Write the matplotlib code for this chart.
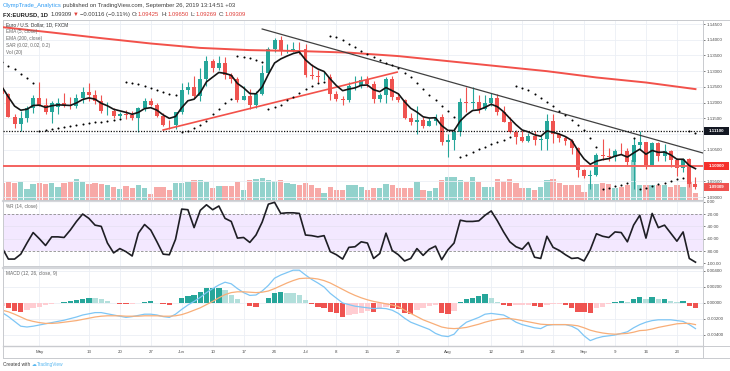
import numpy as np
import matplotlib
matplotlib.use("Agg")
import matplotlib.pyplot as plt
from matplotlib.transforms import blended_transform_factory as blend
from matplotlib.patches import Rectangle
from matplotlib.lines import Line2D

plt.rcParams['font.family'] = ['Liberation Sans', 'DejaVu Sans']

# ---------------- data (EUR/USD daily, 23 Apr - 26 Sep 2019) ----------------
open_ = [1.1247, 1.1226, 1.1155, 1.1131, 1.1150, 1.1184, 1.1216, 1.1194, 1.1171, 1.1185,
         1.1199, 1.1191, 1.1190, 1.1215, 1.1233, 1.1224, 1.1204, 1.1172, 1.1174, 1.1157,
         1.1165, 1.1160, 1.1150, 1.1182, 1.1205, 1.1191, 1.1159, 1.1130, 1.1128, 1.1169,
         1.1241, 1.1251, 1.1222, 1.1275, 1.1333, 1.1311, 1.1327, 1.1287, 1.1275, 1.1209,
         1.1220, 1.1194, 1.1227, 1.1293, 1.1371, 1.1399, 1.1366, 1.1367, 1.1372, 1.1371,
         1.1287, 1.1286, 1.1282, 1.1283, 1.1226, 1.1213, 1.1207, 1.1252, 1.1254, 1.1271,
         1.1259, 1.1211, 1.1223, 1.1275, 1.1218, 1.1208, 1.1152, 1.1140, 1.1145, 1.1126,
         1.1142, 1.1155, 1.1076, 1.1081, 1.1108, 1.1203, 1.1198, 1.1202, 1.1180, 1.1200,
         1.1214, 1.1171, 1.1139, 1.1107, 1.1091, 1.1079, 1.1094, 1.1080, 1.1083, 1.1143,
         1.1099, 1.1088, 1.1077, 1.1057, 1.0985, 1.0968, 1.0970, 1.1033, 1.1030, 1.1027,
         1.1046, 1.1045, 1.1011, 1.1065, 1.1075, 1.1003, 1.1071, 1.1030, 1.1045, 1.1017,
         1.0991, 1.1020, 1.09425]
high = [1.1258, 1.1232, 1.1165, 1.1173, 1.1190, 1.1224, 1.1265, 1.1214, 1.1204, 1.1215,
        1.1230, 1.1218, 1.1229, 1.1251, 1.1264, 1.1240, 1.1225, 1.1202, 1.1182, 1.1170,
        1.1178, 1.1172, 1.1187, 1.1215, 1.1215, 1.1199, 1.1167, 1.1146, 1.1170, 1.1262,
        1.1265, 1.1286, 1.1309, 1.1348, 1.1340, 1.1348, 1.1344, 1.1294, 1.1282, 1.1253,
        1.1244, 1.1236, 1.1319, 1.1378, 1.1404, 1.1412, 1.1385, 1.1394, 1.1392, 1.1385,
        1.1322, 1.1305, 1.1298, 1.1291, 1.1238, 1.1222, 1.1265, 1.1286, 1.1286, 1.1285,
        1.1270, 1.1232, 1.1282, 1.1285, 1.1230, 1.1212, 1.1166, 1.1188, 1.1155, 1.1150,
        1.1163, 1.1164, 1.1100, 1.1118, 1.1216, 1.1250, 1.1250, 1.1224, 1.1225, 1.1231,
        1.1229, 1.1190, 1.1153, 1.1112, 1.1112, 1.1105, 1.1111, 1.1098, 1.1163, 1.1164,
        1.1103, 1.1094, 1.1085, 1.1059, 1.0990, 1.0986, 1.1040, 1.1085, 1.1057, 1.1053,
        1.1071, 1.1055, 1.1087, 1.1109, 1.1075, 1.1075, 1.1076, 1.1068, 1.1049, 1.1025,
        1.1025, 1.1025, 1.09650]
low = [1.1212, 1.1153, 1.1118, 1.1111, 1.1140, 1.1168, 1.1190, 1.1165, 1.1135, 1.1164,
       1.1185, 1.1181, 1.1182, 1.1200, 1.1206, 1.1196, 1.1166, 1.1162, 1.1150, 1.1150,
       1.1148, 1.1145, 1.1107, 1.1174, 1.1188, 1.1153, 1.1125, 1.1115, 1.1116, 1.1163,
       1.1229, 1.1215, 1.1206, 1.1254, 1.1297, 1.1305, 1.1276, 1.1261, 1.1201, 1.1209,
       1.1181, 1.1183, 1.1225, 1.1291, 1.1360, 1.1351, 1.1357, 1.1361, 1.1355, 1.1280,
       1.1276, 1.1265, 1.1273, 1.1207, 1.1204, 1.1193, 1.1201, 1.1240, 1.1245, 1.1250,
       1.1200, 1.1202, 1.1200, 1.1208, 1.1203, 1.1147, 1.1128, 1.1101, 1.1120, 1.1125,
       1.1130, 1.1065, 1.1027, 1.1050, 1.1093, 1.1170, 1.1181, 1.1167, 1.1177, 1.1188,
       1.1160, 1.1137, 1.1105, 1.1067, 1.1076, 1.1076, 1.1065, 1.1051, 1.1051, 1.1072,
       1.1076, 1.1064, 1.1036, 1.0964, 1.0959, 1.0926, 1.0968, 1.1019, 1.1014, 1.1016,
       1.1037, 1.0999, 1.0926, 1.1048, 1.0990, 1.1000, 1.1016, 1.1016, 1.0995, 1.0966,
       1.0980, 1.0933, 1.09269]
close = [1.1227, 1.1155, 1.1131, 1.1150, 1.1184, 1.1216, 1.1194, 1.1171, 1.1200, 1.1199,
         1.1191, 1.1190, 1.1215, 1.1233, 1.1224, 1.1204, 1.1172, 1.1174, 1.1157, 1.1165,
         1.1160, 1.1150, 1.1182, 1.1205, 1.1191, 1.1159, 1.1130, 1.1128, 1.1169, 1.1241,
         1.1251, 1.1222, 1.1275, 1.1333, 1.1311, 1.1327, 1.1287, 1.1275, 1.1209, 1.1220,
         1.1194, 1.1227, 1.1293, 1.1371, 1.1399, 1.1366, 1.1367, 1.1372, 1.1371, 1.1287,
         1.1286, 1.1282, 1.1283, 1.1226, 1.1213, 1.1207, 1.1252, 1.1254, 1.1271, 1.1259,
         1.1211, 1.1223, 1.1275, 1.1218, 1.1208, 1.1152, 1.1140, 1.1145, 1.1126, 1.1142,
         1.1155, 1.1076, 1.1081, 1.1108, 1.1203, 1.1198, 1.1202, 1.1180, 1.1200, 1.1214,
         1.1171, 1.1139, 1.1107, 1.1091, 1.1079, 1.1094, 1.1080, 1.1083, 1.1143, 1.1099,
         1.1088, 1.1077, 1.1057, 1.0985, 1.0968, 1.0970, 1.1033, 1.1030, 1.1027, 1.1046,
         1.1045, 1.1011, 1.1065, 1.1075, 1.1003, 1.1071, 1.1030, 1.1045, 1.1017, 1.0991,
         1.1020, 1.0940, 1.09309]
volume_k = [170, 180, 170, 180, 110, 160, 170, 160, 170, 130,
            170, 180, 210, 180, 160, 170, 160, 150, 130, 110,
            140, 120, 150, 120, 60, 130, 130, 100, 170, 170,
            180, 200, 200, 180, 120, 140, 140, 140, 180, 100,
            200, 210, 220, 200, 190, 200, 170, 160, 150, 170,
            150, 120, 70, 130, 100, 100, 150, 150, 130, 100,
            120, 120, 160, 150, 120, 120, 120, 180, 100, 90,
            120, 200, 230, 230, 200, 180, 230, 180, 130, 130,
            210, 190, 210, 170, 120, 120, 100, 130, 200, 210,
            170, 150, 150, 150, 80, 160, 160, 170, 160, 120,
            130, 150, 400, 150, 150, 150, 150, 150, 130, 150,
            130, 180, 70]
ema5 = [1.1249, 1.1218, 1.1189, 1.1176, 1.1179, 1.1191, 1.1192, 1.1185, 1.1190, 1.1193,
        1.1192, 1.1191, 1.1199, 1.1210, 1.1215, 1.1211, 1.1198, 1.1190, 1.1179, 1.1174,
        1.1169, 1.1163, 1.1169, 1.1181, 1.1184, 1.1176, 1.1161, 1.1150, 1.1156, 1.1184,
        1.1206, 1.1211, 1.1232, 1.1266, 1.1281, 1.1296, 1.1293, 1.1287, 1.1261, 1.1247,
        1.1229, 1.1228, 1.1250, 1.1290, 1.1326, 1.1339, 1.1348, 1.1356, 1.1361, 1.1336,
        1.1319, 1.1307, 1.1299, 1.1275, 1.1254, 1.1238, 1.1243, 1.1247, 1.1255, 1.1256,
        1.1241, 1.1235, 1.1248, 1.1238, 1.1228, 1.1203, 1.1182, 1.1170, 1.1155, 1.1151,
        1.1152, 1.1127, 1.1112, 1.1111, 1.1142, 1.1161, 1.1175, 1.1177, 1.1185, 1.1195,
        1.1187, 1.1171, 1.1150, 1.1130, 1.1113, 1.1107, 1.1098, 1.1093, 1.1110, 1.1106,
        1.1100, 1.1092, 1.1080, 1.1048, 1.1021, 1.1004, 1.1014, 1.1019, 1.1022, 1.1030,
        1.1035, 1.1027, 1.1040, 1.1052, 1.1036, 1.1048, 1.1042, 1.1043, 1.1034, 1.1020,
        1.1020, 1.1000, 1.0990]
ema200_bar = [0, 8, 16, 24, 32, 40, 48, 56, 64, 72, 80, 88, 96, 104, 112]
ema200 = [1.1440, 1.1423, 1.1405, 1.1388, 1.1374, 1.1367, 1.1364, 1.1359, 1.1348,
          1.1332, 1.1316, 1.1300, 1.1280, 1.1264, 1.1243]
sar = [1.1328, 1.1318, 1.1307, 1.1291, 1.1277, 1.1263,
       1.1111, 1.1114, 1.1117, 1.1120, 1.1123, 1.1126, 1.1129, 1.1132, 1.1135, 1.1137,
       1.1140, 1.1142, 1.1145, 1.1147,
       1.1265, 1.1263, 1.1258, 1.1252, 1.1246, 1.1240, 1.1234, 1.1229, 1.1224,
       1.1107, 1.1111, 1.1118, 1.1128, 1.1143, 1.1163, 1.1181, 1.1198, 1.1213,
       1.1348, 1.1345, 1.1342, 1.1336, 1.1330,
       1.1181, 1.1185, 1.1194, 1.1207, 1.1219, 1.1231, 1.1242, 1.1252, 1.1262, 1.1265,
       1.1412, 1.1408, 1.1400, 1.1388, 1.1376, 1.1365, 1.1355, 1.1345, 1.1336, 1.1327,
       1.1319, 1.1311, 1.1295, 1.1280, 1.1262, 1.1242, 1.1225, 1.1208, 1.1190, 1.1172, 1.1153,
       1.1027, 1.1035, 1.1044, 1.1052, 1.1060, 1.1067, 1.1075, 1.1082, 1.1090,
       1.1253, 1.1248, 1.1240, 1.1229, 1.1216, 1.1203, 1.1189, 1.1175, 1.1161, 1.1146,
       1.1130, 1.1113, 1.1086, 1.1058,
       1.0926, 1.0929, 1.0934, 1.0939, 1.0944,
       1.1087,
       1.0926, 1.0930, 1.0935, 1.0941, 1.0946, 1.0951, 1.0956, 1.0961,
       1.1109, 1.1102]
williams_r = [-75, -93, -93, -85, -67, -50, -60, -71, -57, -57,
              -58, -46, -32, -20, -27, -38, -40, -67, -83, -76,
              -81, -88, -51, -37, -46, -65, -85, -86, -61, -12,
              -13, -42, -14, -5, -13, -7, -27, -32, -59, -58,
              -66, -54, -33, -4, -1, -19, -18, -18, -19, -54,
              -55, -57, -55, -81, -86, -93, -74, -73, -65, -67,
              -92, -84, -51, -79, -86, -96, -92, -76, -87, -77,
              -72, -94, -78, -67, -30, -32, -32, -31, -22, -15,
              -31, -49, -65, -73, -77, -66, -90, -92, -56, -74,
              -79, -86, -92, -91, -96, -78, -52, -56, -58, -49,
              -50, -65, -38, -22, -59, -19, -42, -38, -51, -64,
              -49, -92, -98]
# MACD (12, 26, 9), values in units of 1e-4
macd_e4 = [-12, -17, -23, -29, -30, -29, -27.5, -26, -24.5, -23,
           -21.5, -19.5, -17.5, -15, -13.5, -12, -12, -13.5, -15, -16.5,
           -18, -17, -15.5, -14, -14, -15, -17, -18, -14, -8,
           -2.5, 2, 7, 13, 18, 22.5, 26, 24, 18, 13,
           9.5, 10, 15, 22, 31, 35, 38, 41, 41, 35,
           29.5, 25, 20, 12, 6, 0, -2, -4, -5, -6,
           -7, -6.5, -7, -9, -13, -19, -24, -27, -30, -33,
           -38, -41, -42, -39, -30, -24, -21, -18, -14, -13,
           -14, -15, -19, -24, -27, -29, -31, -32, -28, -27,
           -27, -27, -29, -33, -41, -47, -44, -42, -41, -40,
           -38, -36, -31, -27, -24, -22, -21, -21, -21, -22,
           -23, -27, -32]
signal_e4 = [-9, -11, -14, -17.5, -21, -23, -24.5, -25.5, -25.5, -25,
             -24, -23, -22, -20.5, -19, -17.5, -16.5, -16, -16, -16,
             -16.5, -16.5, -16.5, -16, -16, -16, -16.5, -16.5, -16, -14.5,
             -12, -9, -6, -2, 2, 6.5, 10.5, 13, 14, 14,
             13.5, 13, 13.5, 15, 18, 21.5, 25, 28, 30.5, 31,
             31, 30, 28, 25, 21, 17, 13, 9.5, 6.5, 4,
             2, 0.5, -1, -2.5, -4.5, -9, -13, -17, -21, -24,
             -27, -30, -31.5, -32, -31.5, -30.5, -28.5, -26.5, -24, -22,
             -20.5, -19.5, -19.5, -20.5, -22, -23.5, -25, -26.5, -27, -27,
             -27, -27, -27.5, -28.5, -31, -34, -36, -37.5, -38.5, -39,
             -38.5, -38, -36.5, -34.5, -34, -32.5, -30.5, -29, -27.5, -26,
             -25.5, -25.5, -27]
hist_e4 = [-4, -6.7, -9.6, -11.7, -9, -6.5, -4.5, -3, -1.5, 0.5,
           1, 2.5, 3.8, 5.5, 6.5, 6, 4.5, 2.5, 0.5, -1,
           -1.7, -1, -0.3, 1.5, 2.5, 0.5, -1.5, -2.5, -0.5, 5.8,
           9.2, 9.4, 13.3, 18.3, 18.5, 19.2, 16.5, 10.4, 4.6, 0.3,
           -3.5, -4.6, -0.5, 6.7, 12, 13.3, 13, 12, 10, 3.8,
           -1.7, -4.6, -6.7, -10.8, -12.9, -17, -15, -13.5, -12, -10,
           -11, -8, -5.5, -6.7, -8, -12.9, -14, -8.8, -6.7, -4,
           -2.5, -12.9, -14, -10, 1.7, 5, 6.7, 8.8, 10.8, 5.8,
           1.7, -2.1, -4.2, -3, -2.5, -2, -4.2, -4.5, -2, -1.2,
           -0.8, -2.5, -6.7, -10.8, -11.7, -12.5, -6.7, -4.5, -1.5, 1,
           2.5, 1.5, 5, 8, 5, 7.5, 5, 5, 3, 1.5,
           2.5, -4, -6]
# drawn trend lines (bar index, price)
trend_down_bar = [42, 113.2]
trend_down_px = [1.14341, 1.10399]
trend_up_bar = [26, 63.8]
trend_up_px = [1.1113, 1.1297]
level_dotted = 1.11100
level_red = 1.10000
last_price = 1.09309
tick_bar = [6, 14, 19, 24, 29, 34, 39, 44, 49, 54, 59, 64, 72, 79, 84, 89, 94, 99, 104, 109]
tick_lbl = ['May', '13', '20', '27', 'Jun', '10', '17', '24', 'Jul', '8', '15', '22',
            'Aug', '12', '19', '26', 'Sep', '9', '16', '23']
price_ticks = [1.145, 1.140, 1.135, 1.130, 1.125, 1.120, 1.115, 1.110, 1.105, 1.100, 1.095, 1.090]
wr_ticks = [0, -20, -40, -60, -80, -100]
macd_ticks = [0.004, 0.002, 0.0, -0.002, -0.004]

# ---------------- figure ----------------
W, H = 730, 371
fig = plt.figure(figsize=(W / 100, H / 100), dpi=100)
fig.patch.set_facecolor('white')


def rect(x0, y0, x1, y1):
    return [x0 / W, 1 - y1 / H, (x1 - x0) / W, (y1 - y0) / H]


XL, XR = 3.0, 703.0
X0, DX = 2.2, 6.19
XLIM = ((XL - X0) / DX, (XR - X0) / DX)
UP, DN = '#26A69A', '#EF5350'
GRID = '#EBEFF5'
SPINE = '#C9CBCF'
LBL = '#4A4A4A'

o = np.array(open_); h = np.array(high); l = np.array(low); c = np.array(close)
x = np.arange(len(c))
up = c >= o
ccol = np.where(up, UP, DN)
vcol = np.where(up, '#92D2CC', '#F7A9A7')

axv = fig.add_axes(rect(XL, 20, XR, 199.5))
ax = fig.add_axes(rect(XL, 20, XR, 199.5))
axr = fig.add_axes(rect(XL, 200.5, XR, 266))
axm = fig.add_axes(rect(XL, 268, XR, 346))
axt = fig.add_axes(rect(XL, 346, XR, 357.5))
axv.set_zorder(1); ax.set_zorder(2); ax.patch.set_visible(False)

for a in (axv, ax, axr, axm, axt):
    a.set_xlim(*XLIM)
    for s in a.spines.values():
        s.set_color(SPINE); s.set_linewidth(0.7)
    a.tick_params(axis='x', length=0, labelbottom=False)

# vertical grid
for a in (ax, axr, axm):
    for tb in tick_bar:
        a.axvline(tb, color=GRID, lw=0.6, zorder=0)

# volume
axv.bar(x, volume_k, width=0.86, color=vcol, lw=0)
axv.set_ylim(0, 1795)
axv.set_yticks([])
axv.axis('off')

# price pane
YTOP = 1.145 + 4 / 3145.5
YBOT = 1.145 - 175.5 / 3145.5
ax.set_ylim(YBOT, YTOP)
for pv in price_ticks:
    ax.axhline(pv, color=GRID, lw=0.6, zorder=0)
ax.vlines(x, l, h, colors=ccol, lw=0.8, zorder=3)
ax.bar(x, np.maximum(np.abs(c - o), 0.00004), bottom=np.minimum(o, c), width=0.64,
       color=ccol, lw=0, zorder=4)
ax.plot(ema200_bar, ema200, color='#F2514A', lw=1.4, zorder=5)
ax.plot(x, ema5, color='#151515', lw=1.2, zorder=6)
ax.scatter(x, sar, s=2.2, color='black', lw=0, zorder=6)
ax.plot(trend_down_bar, trend_down_px, color='#404040', lw=0.9, zorder=5, clip_on=True)
ax.plot(trend_up_bar, trend_up_px, color='#F2514A', lw=1.2, zorder=5)
ax.axhline(level_dotted, color='#111', lw=0.9, ls=(0, (1, 1.2)), zorder=5)
ax.axhline(level_red, color='#F4625E', lw=1.4, zorder=5)

ax.yaxis.tick_right()
shown = [pv for pv in price_ticks if abs(pv - level_dotted) > 0.002 and abs(pv - level_red) > 0.0001]
ax.set_yticks(shown)
ax.set_yticklabels(['%.5f' % pv for pv in shown])
ax.tick_params(axis='y', labelsize=3.2, colors=LBL, length=1.5, width=0.5, pad=1.2)

tr = blend(ax.transAxes, ax.transData)
for val, fc in ((level_dotted, '#131722'), (level_red, '#F5302B'), (last_price, '#EF5350')):
    ax.add_patch(Rectangle((1.0015, val - 4 / 3145.5), 25 / 700, 8 / 3145.5, transform=tr,
                           fc=fc, ec='none', clip_on=False, zorder=10))
    ax.text(1 + 13.5 / 700, val, '%.5f' % val, transform=tr, fontsize=3.2, color='white',
            ha='center', va='center', clip_on=False, zorder=11, fontweight='bold')

legend_main = ['Euro / U.S. Dollar, 1D, FXCM', 'EMA (5, close)', 'EMA (200, close)',
               'SAR (0.02, 0.02, 0.2)', 'Vol (20)']
for k, s in enumerate(legend_main):
    ax.text(3 / 700, 1 - (4.3 + 7 * k) / 179.5, s, transform=ax.transAxes, fontsize=3.4,
            color='#333' if k == 0 else '#666', ha='left', va='center', zorder=12)

# %R pane
WR_TOP = (201.7 - 200.5) / 0.617
WR_BOT = (201.7 - 266) / 0.617
axr.set_ylim(WR_BOT, WR_TOP)
for v in (-40, -60):
    axr.axhline(v, color='#E6E0F2', lw=0.5, zorder=1)
axr.axhspan(-80, -20, color='#F3E8FF', lw=0, zorder=0)
axr.axhline(-20, color='#8C8C8C', lw=0.6, ls=(0, (3, 2)), zorder=2)
axr.axhline(-80, color='#8C8C8C', lw=0.6, ls=(0, (3, 2)), zorder=2)
axr.plot(x, williams_r, color='#1E1E24', lw=1.2, zorder=4)
axr.yaxis.tick_right()
axr.set_yticks(wr_ticks)
axr.set_yticklabels(['%.2f' % v for v in wr_ticks])
axr.tick_params(axis='y', labelsize=3.2, colors=LBL, length=1.5, width=0.5, pad=1.2)
axr.text(3 / 700, 1 - 6 / 65.5, '%R (14, close)', transform=axr.transAxes, fontsize=3.4,
         color='#666', ha='left', va='center')
axr.spines['top'].set_linewidth(1.6); axr.spines['top'].set_color('#D5D7DB')

# MACD pane
hist = np.array(hist_e4) * 1e-4
prev = np.concatenate([[hist[0]], hist[:-1]])
hcol = np.where(hist >= 0, np.where(hist >= prev, '#26A69A', '#B2DFDB'),
                np.where(hist < prev, '#EF5350', '#FFCDD2'))
axm.set_ylim(-0.005375, 0.004375)
for v in macd_ticks:
    axm.axhline(v, color=GRID, lw=0.6, zorder=0)
axm.bar(x, hist, width=0.86, color=hcol, lw=0, zorder=2)
axm.plot(x, np.array(macd_e4) * 1e-4, color='#7EC6F5', lw=0.9, zorder=3)
axm.plot(x, np.array(signal_e4) * 1e-4, color='#F8AE78', lw=0.9, zorder=3)
axm.yaxis.tick_right()
axm.set_yticks(macd_ticks)
axm.set_yticklabels(['%.5f' % v for v in macd_ticks])
axm.tick_params(axis='y', labelsize=3.2, colors=LBL, length=1.5, width=0.5, pad=1.2)
axm.text(3 / 700, 1 - 5.5 / 78, 'MACD (12, 26, close, 9)', transform=axm.transAxes,
         fontsize=3.4, color='#666', ha='left', va='center')
axm.spines['top'].set_linewidth(1.6); axm.spines['top'].set_color('#D5D7DB')

# time axis
axt.set_yticks([])
axt.spines['top'].set_linewidth(1.0)
ttr = blend(axt.transData, axt.transAxes)
for tb, tl in zip(tick_bar, tick_lbl):
    axt.text(tb, 0.5, tl, transform=ttr, fontsize=3.2, color=LBL, ha='center', va='center')

# outer frame and right column
fig.add_artist(Rectangle((2.5 / W, 1 - 357.5 / H), 727 / W, 338 / H, transform=fig.transFigure,
                         fill=False, ec=SPINE, lw=0.7))
fig.add_artist(Line2D([XR / W, 729.5 / W], [1 - 346 / H, 1 - 346 / H], transform=fig.transFigure,
                      color=SPINE, lw=0.7))

# header
fig.canvas.draw()
rend = fig.canvas.get_renderer()


def seq_text(x_px, y_px, pieces, size):
    xx = x_px
    for s, col, wt, gap in pieces:
        t = fig.text(xx / W, 1 - y_px / H, s, color=col, fontsize=size, fontweight=wt,
                     ha='left', va='center')
        xx += t.get_window_extent(renderer=rend).width + gap


DK, RD = '#3B3B3B', '#E0403A'
seq_text(3, 6, [('OlympTrade_Analytics', '#2B9AF3', 'normal', 1.2),
                ('published on TradingView.com, September 26, 2019 13:14:51 +03', DK, 'normal', 0)], 4.2)
seq_text(3, 14.5, [('FX:EURUSD, 1D', '#222', 'bold', 2.2),
                   ('1.09309', DK, 'normal', 1.2), ('\u25BC', RD, 'normal', 1.2),
                   ('\u22120.00116 (\u22120.11%)', DK, 'normal', 2.2),
                   ('O:', DK, 'normal', 0), ('1.09425', RD, 'normal', 2.2),
                   ('H:', DK, 'normal', 0), ('1.09650', RD, 'normal', 2.2),
                   ('L:', DK, 'normal', 0), ('1.09269', RD, 'normal', 2.2),
                   ('C:', DK, 'normal', 0), ('1.09309', RD, 'normal', 0)], 4.2)
seq_text(3, 364.5, [('Created with', DK, 'normal', 1.5), ('\u2601', '#58B7F0', 'normal', 0.8),
                    ('TradingView', '#58B7F0', 'normal', 0)], 3.4)

fig.savefig('out.png', dpi=100, facecolor='white')
